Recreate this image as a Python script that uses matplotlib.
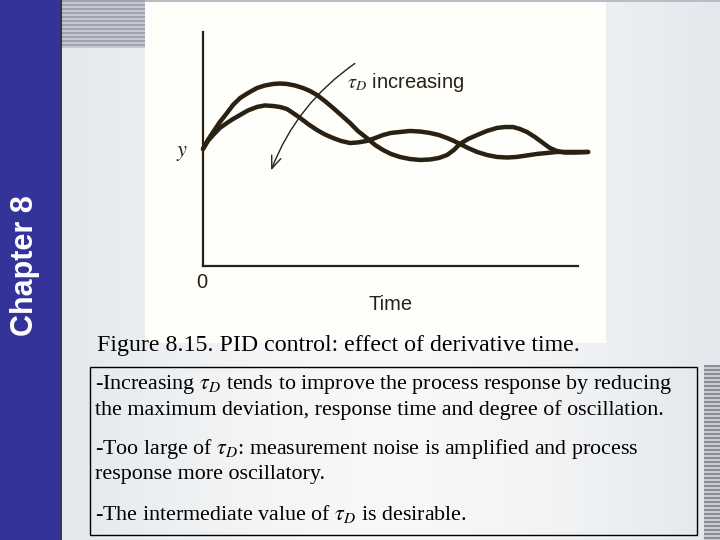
import matplotlib
matplotlib.use("Agg")
import matplotlib.pyplot as plt
from matplotlib.patches import Rectangle
import numpy as np

# readings (time, response), arbitrary units
t_small = [0, 1.3, 2.7, 4.5, 6.4, 8.0, 9.9, 12.0, 14.4, 16.5, 18.7, 20.5, 22.4, 24.5, 26.7,
           28.5, 30.4, 32.5, 34.7, 36.8, 39.2, 41.3, 43.7, 45.9, 48.0, 50.1, 52.5, 55.2,
           57.9, 60.5, 62.9, 65.1, 66.9, 68.5, 70.7, 73.1, 75.7, 78.4, 80.5, 82.7, 84.5,
           86.4, 88.5, 90.7, 92.5, 94.4, 96.5, 99.2, 102.7]
y_small = [100.9, 108.6, 115.5, 124.1, 131.9, 138.8, 144.8, 149.1, 153.4, 155.6, 156.9, 157.3,
           156.9, 155.6, 153.4, 150.9, 147.4, 142.2, 136.2, 130.2, 123.3, 116.4, 110.3, 104.3,
           100.0, 96.6, 94.0, 92.2, 91.4, 91.8, 93.1, 95.7, 100.0, 105.2, 109.5, 112.9, 116.4,
           119.0, 119.8, 119.8, 118.1, 115.5, 111.2, 106.0, 101.7, 99.1, 97.8, 97.8, 98.3]

t_large = [0, 1.3, 2.7, 4.5, 6.4, 8.0, 9.9, 12.0, 14.4, 16.5, 18.7, 20.5, 22.4, 24.0, 25.9,
           28.0, 30.4, 32.5, 34.7, 36.8, 39.2, 41.3, 43.7, 45.9, 48.0, 50.1, 52.5, 55.2,
           57.9, 60.5, 62.9, 65.1, 66.9, 68.5, 70.7, 73.1, 75.7, 78.4, 81.1, 83.7, 86.4,
           89.1, 91.7, 94.4, 97.9, 102.7]
y_large = [100.9, 107.8, 112.9, 119.0, 123.3, 126.7, 130.2, 134.1, 137.1, 138.4, 137.9, 137.1,
           135.3, 131.9, 127.6, 122.4, 117.2, 113.4, 110.3, 107.8, 106.0, 106.5, 107.8, 110.3,
           112.9, 114.7, 115.5, 116.4, 115.9, 114.7, 112.9, 110.3, 107.8, 105.2, 101.7, 98.3,
           95.7, 94.0, 93.5, 94.0, 95.3, 96.6, 97.4, 98.3, 98.3, 98.3]

caption = "Figure 8.15. PID control: effect of derivative time."
notes = [
    r"-Increasing $\tau_D$ tends to improve the process response by reducing",
    "the maximum deviation, response time and degree of oscillation.",
    r"-Too large of $\tau_D$: measurement noise is amplified and process",
    "response more oscillatory.",
    r"-The intermediate value of $\tau_D$ is desirable.",
]
note_y = [384, 410, 449, 475, 514]

ink = "#2a2113"

fig = plt.figure(figsize=(7.2, 5.4), dpi=100)

# slide background, in pixel coordinates
bg = fig.add_axes([0, 0, 1, 1])
bg.set_xlim(0, 720)
bg.set_ylim(540, 0)
bg.axis("off")

grad = np.linspace(0, 1, 256)
bgimg = np.zeros((2, 256, 3))
for k, c in enumerate([0.89, 0.91, 0.93]):
    bgimg[:, :, k] = c + (0.97 - c) * np.sin(grad * np.pi)
bg.imshow(bgimg, extent=[60, 720, 540, 0], aspect="auto", zorder=0)

# top-left and right stripes
for yy in range(0, 48, 4):
    bg.add_patch(Rectangle((61, yy), 84, 2, color="#9ea2ac", lw=0, zorder=1))
    bg.add_patch(Rectangle((61, yy + 2), 84, 2, color="#c4c8d0", lw=0, zorder=1))
for yy in range(365, 540, 4):
    bg.add_patch(Rectangle((704, yy), 16, 2, color="#8a8e96", lw=0, zorder=1))
    bg.add_patch(Rectangle((704, yy + 2), 16, 2, color="#c8ccd2", lw=0, zorder=1))
bg.add_patch(Rectangle((145, 0), 575, 2, color="#b8bcc4", lw=0, zorder=1))

# blue band
bg.add_patch(Rectangle((0, 0), 60, 540, color="#333399", lw=0, zorder=2))
bg.plot([60.5, 60.5], [0, 540], color="#141440", lw=1.2, zorder=3)
bg.text(25, 266, "Chapter 8", rotation=90, color="white", fontsize=22,
        fontweight="bold", family="Liberation Sans", ha="center", va="center", zorder=4)

# picture area
bg.add_patch(Rectangle((145, 2), 461, 341, color="#fefefa", lw=0, zorder=2))

bg.text(97, 346, caption, fontsize=17.2, family="Liberation Serif",
        ha="left", va="center", zorder=4)
bg.add_patch(Rectangle((90, 367), 607, 168, fill=False, ec="black", lw=1, zorder=4))
for line, yy in zip(notes, note_y):
    bg.text(95, yy, line, fontsize=15.8, family="Liberation Serif",
            math_fontfamily="stix", ha="left", va="center", zorder=4)

# response plot
ax = fig.add_axes([203 / 720, (540 - 266) / 540, (600 - 203) / 720, 234 / 540])
ax.set_xlim(0, 105.87)
ax.set_ylim(0, 201.7)
ax.patch.set_alpha(0)
ax.axis("off")

ax.plot([0, 0], [0, 201.7], color=ink, lw=1.6, clip_on=False)
ax.plot([0, 100], [0, 0], color=ink, lw=1.6, clip_on=False)
for tt, yy in [(t_small, y_small), (t_large, y_large)]:
    ax.plot(tt, yy, color=ink, lw=3.2, solid_joinstyle="round",
            solid_capstyle="round", clip_on=False)

ax.annotate("", xy=(17.9, 80.2), xytext=(41.1, 175.9),
            arrowprops=dict(arrowstyle="->,head_length=0.9,head_width=0.35",
                            color=ink, lw=1.0, connectionstyle="arc3,rad=0.16"))
ax.text(38.4, 158.6, r"$\tau_D$ increasing", fontsize=14.5, family="Liberation Sans",
        math_fontfamily="stix", color=ink, ha="left", va="center")
ax.text(-5.6, 97.4, r"$y$", fontsize=16, math_fontfamily="stix", color=ink,
        ha="center", va="center")
ax.text(-0.3, -13.8, "0", fontsize=14.5, family="Liberation Sans", color=ink,
        ha="center", va="center")
ax.text(49.9, -32.8, "Time", fontsize=14.5, family="Liberation Sans", color=ink,
        ha="center", va="center")

fig.savefig("out.png", dpi=100)
